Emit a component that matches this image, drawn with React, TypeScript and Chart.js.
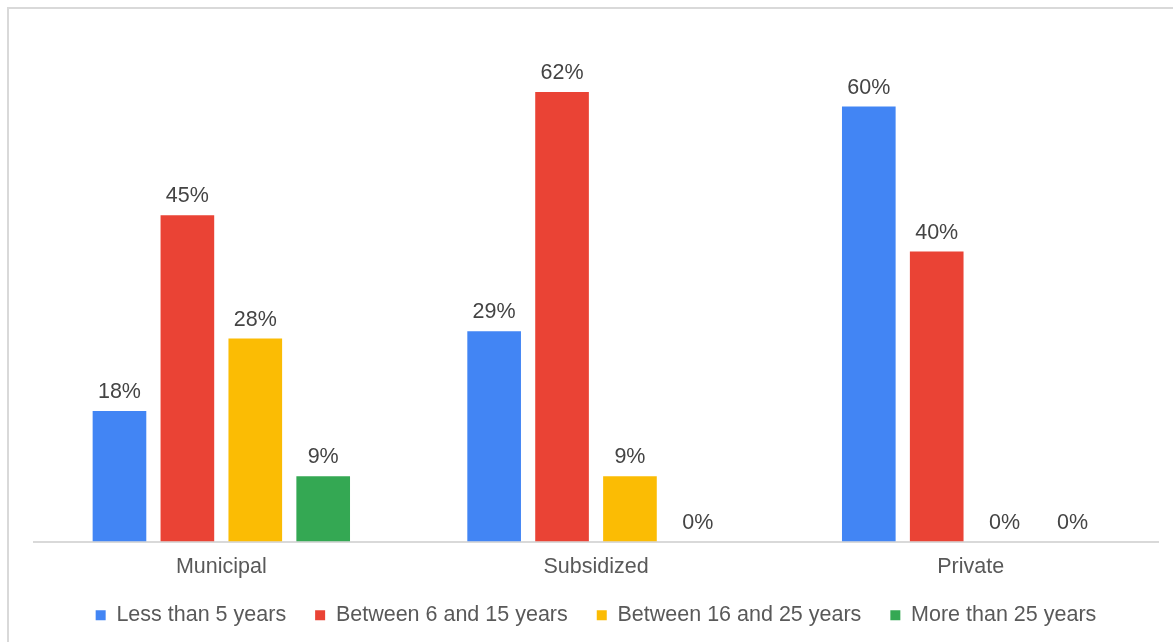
import React, { useEffect, useRef } from "react";
import { Chart, registerables } from "chart.js";

Chart.register(...registerables);

const categories = ["Municipal", "Subsidized", "Private"];
const seriesNames = [
  "Less than 5 years",
  "Between 6 and 15 years",
  "Between 16 and 25 years",
  "More than 25 years",
];
const lessThan5 = [18, 29, 60];
const between6and15 = [45, 62, 40];
const between16and25 = [28, 9, 0];
const moreThan25 = [9, 0, 0];
const seriesColors = ["#4285F4", "#EA4335", "#FBBC04", "#34A853"];

const FONT = "'Liberation Sans', Arial, sans-serif";
const FS = 21.5;

const valueLabels = {
  id: "valueLabels",
  afterLayout(chart: any) {
    // let the x tick labels extend below the compacted axis box without clipping
    const x = chart.scales.x;
    if (x) x.bottom = x.top + 60;
  },
  afterDatasetsDraw(chart: any) {
    const ctx = chart.ctx;
    ctx.save();
    ctx.font = `${FS}px ${FONT}`;
    ctx.fillStyle = "#444444";
    ctx.textAlign = "center";
    ctx.textBaseline = "alphabetic";
    chart.data.datasets.forEach((ds: any, i: number) => {
      const meta = chart.getDatasetMeta(i);
      meta.data.forEach((el: any, j: number) => {
        const v = ds.data[j];
        ctx.fillText(`${v}%`, el.x, el.y - 13);
      });
    });
    ctx.restore();
  },
};

export default function App() {
  const ref = useRef<HTMLCanvasElement>(null);
  useEffect(() => {
    document.body.style.margin = "0";
    document.body.style.overflow = "hidden";
    const seriesData = [lessThan5, between6and15, between16and25, moreThan25];
    const chart = new Chart(ref.current!, {
      type: "bar",
      data: {
        labels: categories,
        datasets: seriesNames.map((name, i) => ({
          label: name,
          data: seriesData[i],
          backgroundColor: seriesColors[i],
          borderWidth: 0,
          categoryPercentage: 0.725,
          barPercentage: 0.79,
        })),
      },
      options: {
        animation: false,
        responsive: false,
        maintainAspectRatio: false,
        layout: { padding: { left: 25, right: 15, top: 25, bottom: 6 } },
        plugins: {
          tooltip: { enabled: false },
          legend: {
            position: "bottom",
            labels: {
              boxWidth: 10,
              boxHeight: 10,
              padding: 29,
              color: "#595959",
              font: { family: FONT, size: FS },
            },
          },
        },
        scales: {
          x: {
            grid: { display: false, drawTicks: false },
            border: { display: true, color: "#d9d9d9", width: 2 },
            ticks: {
              color: "#595959",
              padding: 13,
              font: { family: FONT, size: FS },
            },
            afterFit(scale: any) {
              scale.height = 34;
            },
          },
          y: {
            display: false,
            min: 0,
            max: 70,
          },
        },
      },
      plugins: [valueLabels],
    });
    return () => chart.destroy();
  }, []);
  return (
    <div
      style={{
        position: "absolute",
        left: 7,
        top: 7,
        borderTop: "2px solid #d9d9d9",
        borderLeft: "2px solid #d9d9d9",
        background: "#fff",
      }}
    >
      <canvas ref={ref} width={1164} height={633} style={{ display: "block", width: 1164, height: 633 }} />
    </div>
  );
}
